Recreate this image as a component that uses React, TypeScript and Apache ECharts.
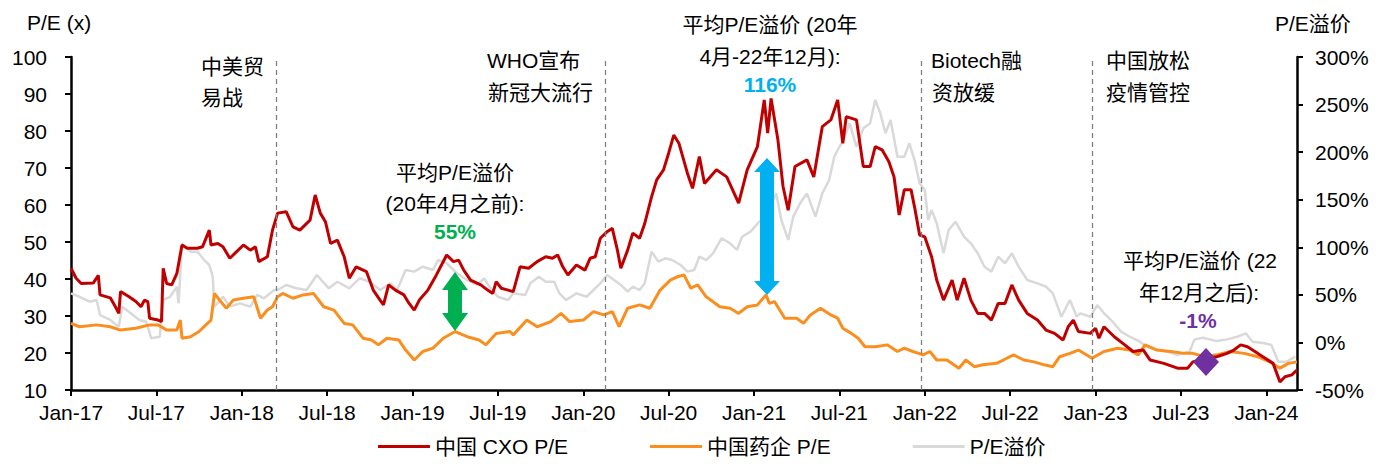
import React, { useEffect, useRef } from "react";
import * as echarts from "echarts";

// x values are decimal years (2017.00 = Jan-17)
const cxoPE: [number, number][] = [
  [2017.0, 42.9], [2017.03, 40.2], [2017.06, 38.8], [2017.13, 38.9], [2017.16, 41], [2017.17, 35.7],
  [2017.23, 34.9], [2017.26, 32.5], [2017.28, 30.7], [2017.29, 36.6], [2017.34, 35.2], [2017.38, 33.9],
  [2017.41, 32.5], [2017.43, 34.3], [2017.45, 33.9], [2017.46, 29.4], [2017.51, 28.9], [2017.53, 28.5],
  [2017.54, 42.9], [2017.56, 38.8], [2017.59, 38.4], [2017.62, 41.5], [2017.65, 49.2], [2017.68, 48.3],
  [2017.74, 48.3], [2017.77, 48.7], [2017.81, 53.2], [2017.82, 49.2], [2017.86, 49.6], [2017.89, 48.7],
  [2017.93, 45.6], [2017.97, 47.4], [2018.01, 49.2], [2018.05, 47.8], [2018.08, 48.7], [2018.1, 44.7],
  [2018.15, 46], [2018.18, 53.2], [2018.21, 57.8], [2018.26, 58.2], [2018.3, 54.1], [2018.34, 53.2],
  [2018.4, 55.9], [2018.43, 62.7], [2018.46, 57.8], [2018.49, 55.5], [2018.52, 49.6], [2018.56, 50.5],
  [2018.6, 46], [2018.63, 40.2], [2018.67, 43.3], [2018.73, 42], [2018.77, 37], [2018.81, 34.3],
  [2018.83, 33], [2018.86, 38.4], [2018.9, 37], [2018.95, 35.7], [2018.98, 33.4], [2019.01, 31.6],
  [2019.04, 34.3], [2019.09, 37], [2019.14, 41.1], [2019.2, 46.5], [2019.24, 44.7], [2019.27, 45.1],
  [2019.3, 42.4], [2019.34, 39.7], [2019.4, 38.4], [2019.44, 37], [2019.47, 36.1], [2019.49, 39.3],
  [2019.52, 37.5], [2019.56, 37], [2019.59, 36.6], [2019.63, 43.3], [2019.68, 42.9], [2019.73, 44.7],
  [2019.78, 46], [2019.82, 45.6], [2019.85, 46.5], [2019.88, 43.3], [2019.91, 41.1], [2019.96, 43.8],
  [2020.01, 42.4], [2020.04, 45.6], [2020.07, 46], [2020.1, 51], [2020.14, 52.8], [2020.17, 53.7],
  [2020.2, 47.8], [2020.22, 42.9], [2020.26, 47.8], [2020.29, 52.4], [2020.33, 51], [2020.36, 55],
  [2020.4, 62.2], [2020.43, 66.8], [2020.47, 69.5], [2020.5, 74], [2020.53, 78.9], [2020.56, 76.7],
  [2020.61, 68.6], [2020.64, 64.5], [2020.68, 73.1], [2020.71, 65.8], [2020.78, 69.5], [2020.84, 67.6],
  [2020.91, 60.5], [2020.96, 69.5], [2021.02, 75.8], [2021.06, 88.4], [2021.08, 79.4], [2021.1, 88.8],
  [2021.14, 77.6], [2021.17, 65], [2021.2, 58.6], [2021.24, 70.4], [2021.31, 72.2], [2021.35, 67.6],
  [2021.4, 81.2], [2021.45, 83], [2021.49, 88.4], [2021.52, 76.7], [2021.54, 83.9], [2021.6, 83],
  [2021.64, 70.4], [2021.68, 70.4], [2021.71, 75.8], [2021.75, 74.9], [2021.79, 71.7], [2021.82, 67.6],
  [2021.85, 57.3], [2021.88, 64.1], [2021.92, 64.1], [2021.94, 59.5], [2021.97, 51.9], [2022.0, 51.4],
  [2022.04, 46], [2022.07, 39.7], [2022.11, 34.3], [2022.16, 39.7], [2022.19, 34.3], [2022.23, 40.2],
  [2022.27, 34.3], [2022.31, 30.7], [2022.35, 30.7], [2022.39, 28.9], [2022.43, 33.4], [2022.47, 33.4],
  [2022.51, 38.4], [2022.55, 34.3], [2022.6, 30.7], [2022.66, 28.9], [2022.71, 26.2], [2022.76, 25.3],
  [2022.81, 23.5], [2022.84, 27.1], [2022.87, 28.9], [2022.9, 25.8], [2022.97, 25.3], [2023.0, 26.7],
  [2023.02, 24], [2023.05, 27.1], [2023.11, 24.4], [2023.16, 22.6], [2023.22, 20.4], [2023.28, 20.8],
  [2023.32, 18.1], [2023.4, 17.2], [2023.48, 15.9], [2023.54, 15.9], [2023.57, 17.6], [2023.64, 18.5],
  [2023.71, 19], [2023.77, 19.9], [2023.81, 20.8], [2023.85, 22.2], [2023.89, 21.7], [2023.92, 20.8],
  [2023.98, 19], [2024.04, 17.2], [2024.08, 12.2], [2024.11, 13.6], [2024.15, 14.1], [2024.18, 15.4],
];

const pharmaPE: [number, number][] = [
  [2017.0, 28], [2017.05, 27.1], [2017.15, 27.6], [2017.23, 27.1], [2017.29, 26.2], [2017.38, 26.7],
  [2017.46, 27.6], [2017.51, 27.6], [2017.56, 26.2], [2017.62, 26.2], [2017.64, 28.9], [2017.65, 24],
  [2017.7, 24.4], [2017.75, 25.8], [2017.79, 27.6], [2017.82, 28.9], [2017.84, 36.1], [2017.87, 34.3],
  [2017.91, 32.1], [2017.95, 34.3], [2018.01, 34.8], [2018.07, 35.2], [2018.11, 29.4], [2018.15, 31.6],
  [2018.18, 32.5], [2018.21, 35.2], [2018.24, 36.1], [2018.3, 34.8], [2018.36, 35.7], [2018.42, 36.1],
  [2018.48, 32.5], [2018.54, 31.6], [2018.6, 28], [2018.65, 27.6], [2018.71, 24], [2018.76, 23.5],
  [2018.8, 22.2], [2018.85, 24], [2018.92, 23.5], [2018.96, 20.8], [2019.01, 18.1], [2019.06, 20.4],
  [2019.12, 21.3], [2019.18, 24], [2019.25, 25.8], [2019.32, 24.4], [2019.39, 23.5], [2019.43, 22.2],
  [2019.49, 25.3], [2019.57, 25.8], [2019.59, 24.9], [2019.67, 28.9], [2019.73, 27.1], [2019.81, 28.5],
  [2019.87, 30.7], [2019.92, 28.5], [2020.0, 28.9], [2020.06, 31.2], [2020.12, 30.3], [2020.17, 31.2],
  [2020.21, 27.1], [2020.26, 32.1], [2020.33, 33], [2020.39, 32.1], [2020.45, 37], [2020.51, 39.7],
  [2020.55, 40.6], [2020.59, 41.1], [2020.63, 37.5], [2020.67, 38.4], [2020.72, 35.2], [2020.8, 32.5],
  [2020.86, 32.1], [2020.91, 30.7], [2020.96, 32.5], [2021.02, 33], [2021.07, 35.7], [2021.09, 33.4],
  [2021.12, 33.9], [2021.18, 29.4], [2021.25, 29.4], [2021.29, 28], [2021.33, 30.3], [2021.39, 32.1],
  [2021.45, 30.3], [2021.49, 29.4], [2021.52, 26.7], [2021.57, 25.3], [2021.61, 24], [2021.65, 21.7],
  [2021.71, 21.7], [2021.78, 22.2], [2021.84, 20.4], [2021.88, 21.3], [2021.93, 20.4], [2021.99, 19.5],
  [2022.03, 20.4], [2022.07, 18.1], [2022.13, 18.1], [2022.2, 15.9], [2022.24, 18.1], [2022.29, 16.3],
  [2022.34, 16.8], [2022.42, 17.2], [2022.46, 18.1], [2022.52, 19.5], [2022.58, 18.1], [2022.64, 17.6],
  [2022.7, 16.8], [2022.75, 16.3], [2022.79, 19], [2022.85, 19.9], [2022.9, 20.8], [2022.98, 18.6],
  [2023.05, 20.4], [2023.13, 21.3], [2023.2, 20.8], [2023.25, 19.5], [2023.29, 22.2], [2023.36, 20.8],
  [2023.44, 20.4], [2023.52, 19.9], [2023.57, 19.9], [2023.64, 19], [2023.71, 19.5], [2023.79, 20.4],
  [2023.87, 19.9], [2023.95, 19], [2024.02, 17.6], [2024.08, 15.9], [2024.13, 17.2], [2024.18, 17.6],
];

const premium: [number, number][] = [
  [2017.0, 51.6], [2017.05, 48], [2017.11, 42.8], [2017.15, 44.6], [2017.17, 28.8], [2017.23, 23.6],
  [2017.28, 16.5], [2017.3, 37.6], [2017.35, 30.6], [2017.4, 23.6], [2017.44, 21.8], [2017.47, 4.3],
  [2017.52, 6], [2017.54, 44.6], [2017.58, 48], [2017.62, 58.6], [2017.63, 41.1], [2017.65, 104.2],
  [2017.7, 95.4], [2017.74, 95.4], [2017.78, 86.6], [2017.81, 81.4], [2017.83, 69.1], [2017.84, 37.6],
  [2017.89, 48], [2017.93, 37.6], [2017.99, 41.1], [2018.05, 37.6], [2018.09, 49.9], [2018.13, 46.4],
  [2018.19, 55], [2018.21, 55.1], [2018.26, 60.4], [2018.32, 56.9], [2018.38, 55.1], [2018.44, 70.9],
  [2018.51, 56.9], [2018.56, 63.8], [2018.63, 56.9], [2018.69, 67.4], [2018.75, 63.8], [2018.81, 55.1],
  [2018.87, 62.1], [2018.91, 55.1], [2018.96, 76.1], [2019.01, 74.4], [2019.06, 79.6], [2019.12, 76.1],
  [2019.15, 86.6], [2019.2, 83.2], [2019.26, 72.7], [2019.32, 65.6], [2019.38, 60.4], [2019.42, 67.4],
  [2019.45, 58.6], [2019.5, 48], [2019.56, 44.6], [2019.59, 51.6], [2019.66, 49.9], [2019.69, 62.1],
  [2019.74, 69.1], [2019.78, 63.8], [2019.83, 63.8], [2019.86, 51.6], [2019.9, 44.6], [2019.96, 51.6],
  [2020.02, 48], [2020.06, 55.1], [2020.1, 62.1], [2020.14, 70.9], [2020.18, 65.6], [2020.22, 60.4],
  [2020.26, 53.3], [2020.29, 58.6], [2020.33, 55.1], [2020.36, 62.1], [2020.4, 95.4], [2020.44, 84.9],
  [2020.48, 88.4], [2020.52, 86.6], [2020.57, 81.4], [2020.61, 74.4], [2020.65, 76.1], [2020.68, 90.1],
  [2020.72, 86.6], [2020.76, 93.7], [2020.81, 109.4], [2020.86, 104.2], [2020.9, 97.2], [2020.93, 111.1],
  [2020.98, 116.4], [2021.03, 126.9], [2021.07, 132.2], [2021.13, 156.7], [2021.16, 128.7], [2021.2, 107.7],
  [2021.23, 132.2], [2021.27, 146.2], [2021.31, 156.7], [2021.36, 132.2], [2021.4, 156.7], [2021.44, 170.7],
  [2021.47, 195.2], [2021.5, 205.7], [2021.52, 211], [2021.56, 230.3], [2021.6, 205.7], [2021.64, 225],
  [2021.68, 230.3], [2021.71, 254.8], [2021.74, 240.8], [2021.77, 219.8], [2021.8, 233.8], [2021.84, 195.2],
  [2021.88, 195.2], [2021.91, 209.3], [2021.94, 191.7], [2021.97, 167.2], [2022.0, 160.2], [2022.02, 128.7],
  [2022.04, 139.2], [2022.07, 125.2], [2022.11, 93.7], [2022.14, 118.2], [2022.18, 126.9], [2022.23, 111.1],
  [2022.27, 104.2], [2022.31, 93.7], [2022.35, 79.6], [2022.39, 74.4], [2022.43, 90.1], [2022.47, 83.2],
  [2022.51, 93.7], [2022.55, 79.6], [2022.6, 65.6], [2022.66, 62.1], [2022.71, 58.6], [2022.75, 51.6],
  [2022.8, 27], [2022.85, 44.6], [2022.89, 27], [2022.91, 30.6], [2022.97, 27], [2023.01, 39.3],
  [2023.05, 30.6], [2023.1, 21.8], [2023.15, 11.3], [2023.2, 6], [2023.26, 0.8], [2023.3, -4.5],
  [2023.36, -8], [2023.42, -9.7], [2023.48, -13.2], [2023.55, -9.7], [2023.58, 3.2], [2023.63, 4.9],
  [2023.71, 1.4], [2023.77, 3.2], [2023.83, 6], [2023.88, 9.6], [2023.92, 0.8], [2023.99, -0.9],
  [2024.03, -2.7], [2024.07, -20.2], [2024.12, -20.2], [2024.17, -15],
];

const eventDates = [2018.2, 2020.13, 2021.98, 2022.98];
const seriesNames = ["中国 CXO P/E", "中国药企 P/E", "P/E溢价"];
const colors = ["#C00000", "#FA8E1E", "#D9D9D9"];

const FONT = "'Liberation Sans', Arial, 'Noto Sans CJK SC', sans-serif";

export default function App() {
  const ref = useRef<HTMLDivElement>(null);
  useEffect(() => {
    if (!ref.current) return;
    const chart = echarts.init(ref.current, undefined, { renderer: "svg" });
    const txt = (text: string, x: number, y: number, align: string, extra: any = {}) => ({
      type: "text",
      x,
      y,
      z: 100,
      style: {
        text,
        fill: extra.fill || "#000",
        font: `${extra.bold ? "bold " : ""}21px ${FONT}`,
        align,
        verticalAlign: "middle",
      },
    });
    const dblArrow = (cx: number, top: number, hb1: number, hb2: number, bottom: number, hh: number, hs: number, fill: string) => ({
      type: "polygon",
      z: 90,
      shape: {
        points: [
          [cx, top], [cx + hh, hb1], [cx + hs, hb1], [cx + hs, hb2], [cx + hh, hb2],
          [cx, bottom], [cx - hh, hb2], [cx - hs, hb2], [cx - hs, hb1], [cx - hh, hb1],
        ],
      },
      style: { fill },
    });
    const option: any = {
      animation: false,
      grid: { left: 71, right: 92, top: 57, bottom: 74 },
      legend: {
        data: seriesNames.map((n) => ({ name: n, icon: "rect" })),
        left: 378,
        top: 436,
        itemWidth: 52,
        itemHeight: 3,
        itemGap: 82,
        padding: 0,
        textStyle: { fontSize: 21, color: "#000", fontFamily: FONT },
      },
      xAxis: {
        type: "value",
        min: 2017,
        max: 2024.18,
        interval: 0.5,
        axisLine: { onZero: false, lineStyle: { color: "#000", width: 2.5 } },
        axisTick: { length: 6, lineStyle: { color: "#000", width: 2 } },
        splitLine: { show: false },
        axisLabel: {
          showMaxLabel: false,
          margin: 12,
          fontSize: 21,
          color: "#000",
          fontFamily: FONT,
          formatter: (v: number) => {
            const y = Math.floor(v + 0.001);
            const yy = String(y % 100).padStart(2, "0");
            return v - y > 0.25 ? `Jul-${yy}` : `Jan-${yy}`;
          },
        },
      },
      yAxis: [
        {
          type: "value",
          min: 10,
          max: 100,
          interval: 10,
          axisLine: { show: true, onZero: false, lineStyle: { color: "#000", width: 2.5 } },
          axisTick: { show: true, length: 6, lineStyle: { color: "#000", width: 2 } },
          splitLine: { show: false },
          axisLabel: { margin: 24, fontSize: 21, color: "#000", fontFamily: FONT },
        },
        {
          type: "value",
          position: "right",
          min: -50,
          max: 300,
          interval: 50,
          axisLine: { show: true, onZero: false, lineStyle: { color: "#000", width: 2.5 } },
          axisTick: { show: true, length: 6, lineStyle: { color: "#000", width: 2 } },
          splitLine: { show: false },
          axisLabel: { margin: 18, fontSize: 21, color: "#000", fontFamily: FONT, formatter: "{value}%" },
        },
      ],
      series: [
        {
          name: seriesNames[2],
          type: "line",
          yAxisIndex: 1,
          data: premium,
          symbol: "none",
          z: 2,
          lineStyle: { color: colors[2], width: 2.5 },
          itemStyle: { color: colors[2] },
        },
        {
          name: seriesNames[1],
          type: "line",
          data: pharmaPE,
          symbol: "none",
          z: 3,
          lineStyle: { color: colors[1], width: 3 },
          itemStyle: { color: colors[1] },
        },
        {
          name: seriesNames[0],
          type: "line",
          data: cxoPE,
          symbol: "none",
          z: 4,
          lineStyle: { color: colors[0], width: 3 },
          itemStyle: { color: colors[0] },
          markLine: {
            silent: true,
            symbol: ["none", "none"],
            label: { show: false },
            lineStyle: { color: "#808080", type: [5, 4], width: 1.3 },
            data: eventDates.map((d) => ({ xAxis: d })),
          },
        },
      ],
      graphic: [
        txt("P/E (x)", 27, 22, "left"),
        txt("P/E溢价", 1275, 23, "left"),
        txt("中美贸", 201, 66, "left"),
        txt("易战", 201, 97, "left"),
        txt("WHO宣布", 487, 60, "left"),
        txt("新冠大流行", 488, 92, "left"),
        txt("Biotech融", 931, 60, "left"),
        txt("资放缓", 932, 92, "left"),
        txt("中国放松", 1106, 60, "left"),
        txt("疫情管控", 1106, 92, "left"),
        txt("平均P/E溢价 (20年", 770, 24, "center"),
        txt("4月-22年12月):", 770, 56, "center"),
        txt("116%", 770, 84, "center", { bold: true, fill: "#00B0F0" }),
        txt("平均P/E溢价", 455, 172, "center"),
        txt("(20年4月之前):", 455, 203, "center"),
        txt("55%", 455, 231, "center", { bold: true, fill: "#00B050" }),
        txt("平均P/E溢价 (22", 1200, 260, "center"),
        txt("年12月之后):", 1199, 292, "center"),
        txt("-1%", 1198, 320, "center", { bold: true, fill: "#7030A0" }),
        dblArrow(455, 272, 290, 313, 331, 13, 7, "#00B050"),
        dblArrow(767, 158, 172, 281, 295, 13, 7, "#00B0F0"),
        {
          type: "polygon",
          z: 90,
          shape: { points: [[1206, 348], [1219, 362], [1206, 376], [1193, 362]] },
          style: { fill: "#7030A0" },
        },
      ],
    };
    chart.setOption(option);
    return () => chart.dispose();
  }, []);
  return (
    <div
      ref={ref}
      style={{ position: "fixed", left: 0, top: 0, width: 1389, height: 464, background: "#fff" }}
    />
  );
}
